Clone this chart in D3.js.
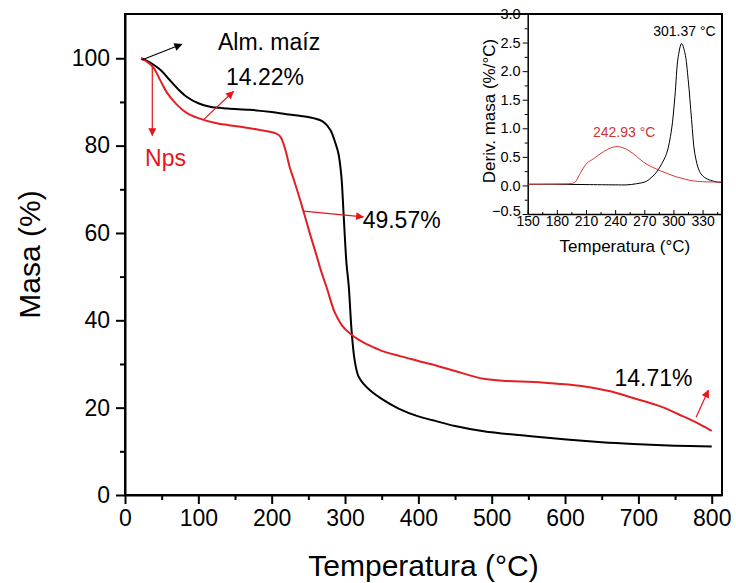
<!DOCTYPE html>
<html>
<head>
<meta charset="utf-8">
<script src="https://cdn.jsdelivr.net/npm/d3@7/dist/d3.min.js"></script>
<style>
  html, body { margin: 0; padding: 0; background: #fff; }
  svg text { font-family: "Liberation Sans", Arial, sans-serif; }
</style>
</head>
<body>
<svg id="chart" width="736" height="583"></svg>
<script>
// ---------- DATA ----------
// Main TGA: Alm. maíz (black)
const almTemp = [22, 30, 40, 50, 60, 72, 84, 100, 116, 140, 170, 200, 220, 240, 257, 270, 280, 287, 291, 295, 298, 302, 305, 309, 313, 318, 325, 334, 350, 373, 400, 420, 450, 489, 550, 602, 650, 693, 750, 800];
const almMass = [100, 99.4, 98.4, 97.1, 95.2, 93, 91.2, 89.7, 88.9, 88.5, 88.2, 87.7, 87.2, 86.8, 86.3, 85.5, 83.6, 80.5, 78.2, 73, 64.5, 53, 48, 37.5, 31, 27.3, 25.5, 24, 22, 19.8, 18, 17.1, 15.8, 14.6, 13.5, 12.7, 12.1, 11.7, 11.3, 11.1];
// Main TGA: Nps (red)
const npsTemp = [22, 30, 39, 48, 57, 70, 84, 100, 125, 150, 170, 190, 202, 208, 212, 216, 220, 225, 230, 238, 245, 252, 260, 267, 275, 286, 296, 308, 320, 330, 350, 375, 400, 425, 450, 489, 520, 557, 590, 625, 660, 693, 730, 761, 780, 800];
const npsMass = [100, 99.2, 97.8, 95, 92.2, 89.5, 87.5, 86.3, 85.1, 84.5, 84, 83.4, 83, 82.6, 82, 80.5, 78.2, 74.8, 72.3, 68, 64, 59.9, 55.5, 51.5, 47.5, 41.8, 38.8, 36.8, 35.4, 34.5, 33, 31.8, 30.7, 29.6, 28.4, 26.6, 26.1, 25.9, 25.5, 24.9, 23.8, 22.2, 20.3, 18, 16.5, 14.7];
// Inset DTG
const dAlmTemp = [150, 180, 210, 240, 252, 262, 272, 278, 283, 288, 293, 298, 301.5, 305, 308.4, 311.8, 315.2, 318.7, 322, 327, 332, 338, 345, 350];
const dAlmVal  = [0.02, 0.02, 0.015, 0.01, 0.01, 0.03, 0.07, 0.15, 0.24, 0.38, 0.56, 0.97, 1.55, 2.26, 2.48, 2.32, 1.85, 1.15, 0.56, 0.24, 0.14, 0.09, 0.06, 0.05];
const dNpsTemp = [150, 180, 195, 199, 204, 211, 218, 228, 236, 242, 248, 255, 262, 269, 277, 286, 295, 303, 312, 320, 330, 340, 350];
const dNpsVal  = [0.02, 0.025, 0.035, 0.06, 0.21, 0.39, 0.47, 0.59, 0.66, 0.68, 0.66, 0.6, 0.51, 0.41, 0.33, 0.26, 0.2, 0.15, 0.11, 0.08, 0.065, 0.06, 0.06];

// Ticks
const xTicks = [0, 100, 200, 300, 400, 500, 600, 700, 800];
const xMinor = [50, 150, 250, 350, 450, 550, 650, 750];
const yTicks = [0, 20, 40, 60, 80, 100];
const yMinor = [10, 30, 50, 70, 90];
const ixTicks = [150, 180, 210, 240, 270, 300, 330];
const ixMinor = [165, 195, 225, 255, 285, 315, 345];
const iyTicks = [-0.5, 0, 0.5, 1.0, 1.5, 2.0, 2.5, 3.0];
const iyMinor = [-0.25, 0.25, 0.75, 1.25, 1.75, 2.25, 2.75];

// Annotations (data units)
const annoArrows = [
  { from: [22.7, 99.6], to: [77.3, 103.2], color: "#000" },
  { from: [37.2, 98.5], to: [37.2, 82.3], color: "#e8141a" },
  { from: [106.8, 85.9], to: [147.7, 92.4], color: "#e8141a" },
  { from: [243.2, 65.0], to: [325, 63.7], color: "#e8141a" },
  { from: [778.7, 17.8], to: [795.4, 24.0], color: "#e8141a" }
];
const annoTexts = [
  { text: "Alm. maíz", at: [126.8, 101.9], color: "#000" },
  { text: "14.22%", at: [137.7, 93.9], color: "#000" },
  { text: "Nps", at: [27.3, 75.3], color: "#e8141a" },
  { text: "49.57%", at: [324, 61.2], color: "#000" },
  { text: "14.71%", at: [667.3, 25], color: "#000" }
];
const insetTexts = [
  { text: "242.93 °C", at: [217.2, 0.85], color: "#cf3535" },
  { text: "301.37 °C", at: [279.2, 2.62], color: "#000" }
];

// ---------- CHART ----------
const svg = d3.select("#chart");
svg.append("rect").attr("width", 736).attr("height", 583).attr("fill", "#fff");

const L = 125, R = 722, T = 14, B = 495;
const x = d3.scaleLinear().domain([0, 814]).range([L, R]);
const y = d3.scaleLinear().domain([0, 110]).range([B, 14.6]);

// defs: arrowheads
const defs = svg.append("defs");
function marker(id, color) {
  defs.append("marker").attr("id", id)
    .attr("viewBox", "0 0 10 10").attr("refX", 9).attr("refY", 5)
    .attr("markerWidth", 10).attr("markerHeight", 8)
    .attr("markerUnits", "userSpaceOnUse")
    .attr("orient", "auto")
    .append("path").attr("d", "M0,0 L10,5 L0,10 z").attr("fill", color);
}
marker("arrBlack", "#000");
marker("arrRed", "#e8141a");

// axes
const xAx = svg.append("g").attr("transform", `translate(0,${B})`)
  .call(d3.axisBottom(x).tickValues(xTicks).tickSize(9).tickSizeOuter(0).tickPadding(6));
svg.append("g").attr("transform", `translate(0,${B})`)
  .call(d3.axisBottom(x).tickValues(xMinor).tickSize(5).tickSizeOuter(0).tickFormat(""))
  .select(".domain").remove();
const yAx = svg.append("g").attr("transform", `translate(${L},0)`)
  .call(d3.axisLeft(y).tickValues(yTicks).tickSize(9).tickSizeOuter(0).tickPadding(6));
svg.append("g").attr("transform", `translate(${L},0)`)
  .call(d3.axisLeft(y).tickValues(yMinor).tickSize(5).tickSizeOuter(0).tickFormat(""))
  .select(".domain").remove();

svg.selectAll(".tick line").attr("stroke", "#000").attr("stroke-width", 2);
[xAx, yAx].forEach(a => {
  a.select(".domain").attr("stroke", "#000").attr("stroke-width", 2);
  a.selectAll("text").attr("font-size", 23).attr("fill", "#000")
    .style("font-family", "'Liberation Sans', Arial, sans-serif");
});
// extend axis lines to frame
svg.append("line").attr("x1", L).attr("x2", L).attr("y1", T).attr("y2", B).attr("stroke", "#000").attr("stroke-width", 2);
svg.append("line").attr("x1", L).attr("x2", R).attr("y1", B).attr("y2", B).attr("stroke", "#000").attr("stroke-width", 2);

// axis titles
svg.append("text").attr("x", (L + R) / 2).attr("y", 576).attr("text-anchor", "middle")
  .attr("font-size", 30).attr("fill", "#000").text("Temperatura (°C)");
svg.append("text").attr("transform", `translate(40,${(T + B) / 2}) rotate(-90)`)
  .attr("text-anchor", "middle").attr("font-size", 30).attr("fill", "#000").text("Masa (%)");

// curves
const mainLine = d3.line().x(d => x(d[0])).y(d => y(d[1])).curve(d3.curveCatmullRom.alpha(0.5));
svg.append("path").datum(d3.zip(almTemp, almMass)).attr("d", mainLine)
  .attr("fill", "none").attr("stroke", "#000").attr("stroke-width", 2);
svg.append("path").datum(d3.zip(npsTemp, npsMass)).attr("d", mainLine)
  .attr("fill", "none").attr("stroke", "#e31e24").attr("stroke-width", 2);

// annotation arrows
annoArrows.forEach(a => {
  svg.append("line")
    .attr("x1", x(a.from[0])).attr("y1", y(a.from[1]))
    .attr("x2", x(a.to[0])).attr("y2", y(a.to[1]))
    .attr("stroke", a.color).attr("stroke-width", 1.2)
    .attr("marker-end", a.color === "#000" ? "url(#arrBlack)" : "url(#arrRed)");
});
annoTexts.forEach(t => {
  svg.append("text").attr("x", x(t.at[0])).attr("y", y(t.at[1]))
    .attr("font-size", 23).attr("fill", t.color).text(t.text);
});

// ---------- INSET ----------
const iL = 527.7, iR = R, iT = T, iB = 214;
const xi = d3.scaleLinear().domain([150, 350]).range([iL, iR]);
const yi = d3.scaleLinear().domain([-0.5, 3.0]).range([iB, iT]);
const ins = svg.append("g");
ins.append("rect").attr("x", iL).attr("y", iT).attr("width", iR - iL).attr("height", iB - iT).attr("fill", "#fff");

const iyAx = ins.append("g").attr("transform", `translate(${iL},0)`)
  .call(d3.axisLeft(yi).tickValues(iyTicks).tickSize(5).tickSizeOuter(0).tickPadding(2).tickFormat(d3.format(".1f")));
ins.append("g").attr("transform", `translate(${iL},0)`)
  .call(d3.axisLeft(yi).tickValues(iyMinor).tickSize(3).tickSizeOuter(0).tickFormat(""))
  .select(".domain").remove();
const ixAx = ins.append("g").attr("transform", `translate(0,${iB})`)
  .call(d3.axisBottom(xi).tickValues(ixTicks).tickSizeInner(-4).tickSizeOuter(0).tickPadding(1));
ins.append("g").attr("transform", `translate(0,${iB})`)
  .call(d3.axisBottom(xi).tickValues(ixMinor).tickSizeInner(-2).tickSizeOuter(0).tickFormat(""))
  .select(".domain").remove();
ins.selectAll(".tick line").attr("stroke", "#000").attr("stroke-width", 1);
[iyAx, ixAx].forEach(a => {
  a.select(".domain").attr("stroke", "#000").attr("stroke-width", 1.5);
  a.selectAll("text").attr("fill", "#000")
    .style("font-family", "'Liberation Sans', Arial, sans-serif");
});
iyAx.selectAll("text").attr("font-size", 14.5);
iyAx.selectAll(".tick").filter(d => d === -0.5).select("text").attr("dy", "0.1em");
ixAx.selectAll("text").attr("font-size", 14).attr("dy", "0.75em");

ins.append("text").attr("x", (iL + iR) / 2).attr("y", 252).attr("text-anchor", "middle")
  .attr("font-size", 17).attr("fill", "#000").text("Temperatura (°C)");
ins.append("text").attr("transform", `translate(495,${(iT + iB) / 2 - 3}) rotate(-90)`)
  .attr("text-anchor", "middle").attr("font-size", 17).attr("fill", "#000").text("Deriv. masa (%/°C)");

const insLine = d3.line().x(d => xi(d[0])).y(d => yi(d[1])).curve(d3.curveCatmullRom.alpha(0.5));
ins.append("path").datum(d3.zip(dAlmTemp, dAlmVal)).attr("d", insLine)
  .attr("fill", "none").attr("stroke", "#000").attr("stroke-width", 1);
ins.append("path").datum(d3.zip(dNpsTemp, dNpsVal)).attr("d", insLine)
  .attr("fill", "none").attr("stroke", "#d23a3a").attr("stroke-width", 1);
insetTexts.forEach(t => {
  ins.append("text").attr("x", xi(t.at[0])).attr("y", yi(t.at[1]))
    .attr("font-size", 14).attr("fill", t.color).text(t.text);
});

// frame top and right (drawn last)
svg.append("line").attr("x1", L - 1).attr("x2", R + 1).attr("y1", T).attr("y2", T).attr("stroke", "#000").attr("stroke-width", 2);
svg.append("line").attr("x1", R).attr("x2", R).attr("y1", T).attr("y2", B + 1).attr("stroke", "#000").attr("stroke-width", 2);
</script>
</body>
</html>
